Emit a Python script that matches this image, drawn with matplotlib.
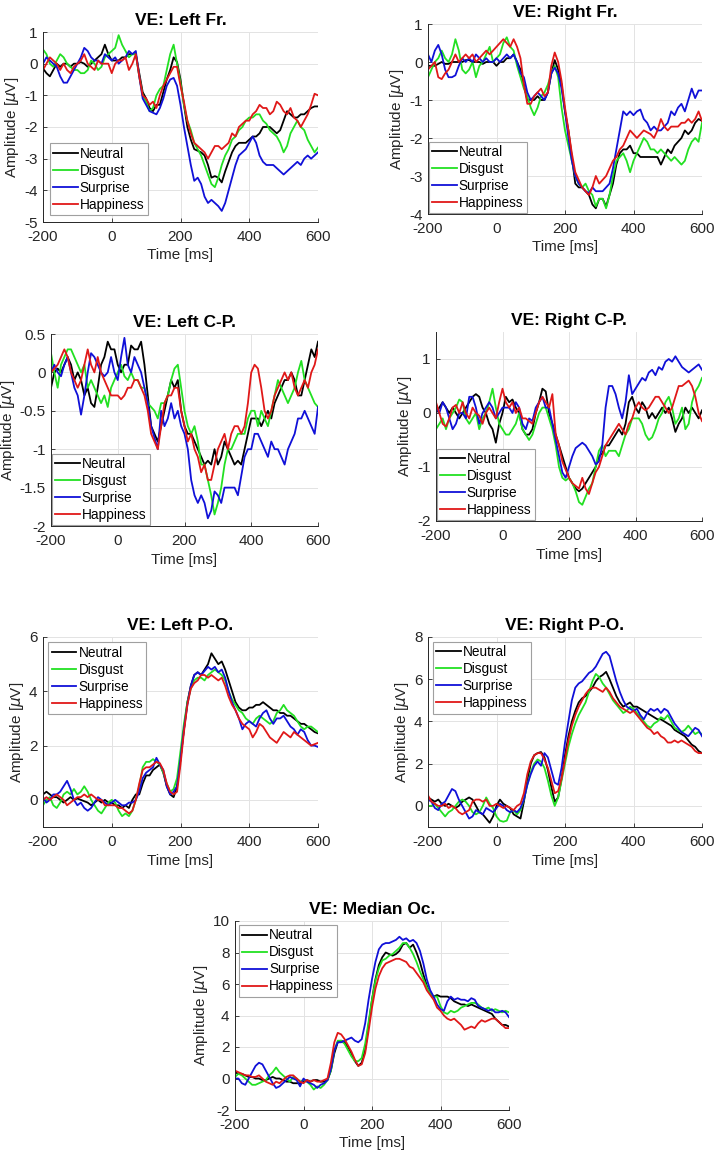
import numpy as np
import matplotlib
matplotlib.use('Agg')
import matplotlib.pyplot as plt
from matplotlib.ticker import FuncFormatter

plt.rcParams['font.family'] = ['Liberation Sans', 'DejaVu Sans']
plt.rcParams['axes.unicode_minus'] = False
plt.rcParams['mathtext.fontset'] = 'dejavusans'

# time axis, ms (10 ms steps, -200 .. 600)
time_ms = np.arange(-200, 601, 10)
conditions = ['Neutral', 'Disgust', 'Surprise', 'Happiness']
colors = ['#000000', '#22e022', '#1010d8', '#e01818']

# ---- VE: Left Fr. ----
left_fr_neutral = [-0.15, -0.3, -0.4, -0.2, 0.0, -0.1, 0.0, 0.0, -0.1, 0.0,
                   0.0, 0.05, 0.0, -0.1, 0.0, 0.1, 0.2, 0.3, 0.6, 0.3,
                   0.1, 0.1, 0.1, 0.2, 0.2, 0.3, 0.3, 0.3, -0.3, -0.9,
                   -1.1, -1.4, -1.5, -1.3, -1.3, -0.9, -0.5, -0.2, 0.2, 0.05,
                   -0.5, -1.3, -2.0, -2.4, -2.7, -2.75, -2.8, -2.9, -3.2, -3.6,
                   -3.55, -3.6, -3.75, -3.4, -3.1, -2.8, -2.6, -2.5, -2.5, -2.5,
                   -2.4, -2.3, -2.3, -2.2, -2.0, -2.0, -2.0, -2.1, -2.2, -2.1,
                   -1.8, -1.5, -1.6, -1.7, -1.7, -1.6, -1.6, -1.5, -1.4, -1.35,
                   -1.35]
left_fr_disgust = [0.45, 0.3, 0.0, -0.1, 0.1, 0.3, 0.2, 0.0, -0.1, -0.2,
                   -0.2, -0.3, -0.3, -0.2, 0.1, 0.0, -0.2, -0.1, 0.2, 0.3,
                   0.4, 0.5, 0.9, 0.6, 0.4, 0.2, 0.3, 0.3, -0.4, -1.0,
                   -1.2, -1.5, -1.4, -1.0, -0.8, -0.7, -0.2, 0.3, 0.6, 0.0,
                   -0.6, -1.3, -1.8, -2.1, -2.5, -2.7, -2.9, -3.2, -3.5, -3.8,
                   -3.9, -3.6, -3.2, -2.9, -2.7, -2.4, -2.3, -2.1, -2.0, -1.8,
                   -1.7, -1.7, -1.6, -1.6, -1.8, -1.9, -2.1, -2.2, -2.3, -2.5,
                   -2.8, -2.6, -2.2, -2.0, -1.8, -2.0, -2.1, -2.4, -2.6, -2.8,
                   -2.65]
left_fr_surprise = [0.0, 0.2, 0.1, 0.0, -0.1, -0.4, -0.6, -0.6, -0.4, -0.2,
                    0.0, 0.2, 0.5, 0.4, 0.2, 0.1, 0.1, 0.0, 0.3, 0.2,
                    0.1, 0.2, 0.0, 0.1, 0.2, 0.4, 0.3, 0.4, -0.4, -1.1,
                    -1.3, -1.5, -1.55, -1.6, -1.4, -1.1, -0.7, -0.5, -0.45, -0.7,
                    -1.3, -2.0, -2.6, -3.2, -3.7, -3.6, -3.8, -4.2, -4.4, -4.3,
                    -4.4, -4.5, -4.65, -4.4, -4.0, -3.6, -3.2, -2.9, -2.8, -2.7,
                    -2.5, -2.3, -2.5, -2.9, -3.1, -3.2, -3.2, -3.2, -3.3, -3.4,
                    -3.5, -3.4, -3.3, -3.2, -3.1, -3.2, -3.0, -2.9, -3.0, -2.9,
                    -2.8]
left_fr_happiness = [-0.2, 0.0, 0.2, 0.1, 0.0, -0.2, 0.0, -0.2, -0.3, -0.1,
                     0.0, 0.1, 0.3, 0.0, -0.1, -0.2, 0.1, 0.0, 0.0, 0.0,
                     -0.3, 0.0, 0.1, 0.1, 0.2, -0.2, 0.0, 0.3, -0.4, -1.0,
                     -1.1, -1.3, -1.2, -1.4, -1.0, -0.7, -0.5, -0.3, -0.1, -0.1,
                     -0.7, -1.2, -1.8, -2.2, -2.5, -2.6, -2.7, -2.8, -3.0, -2.8,
                     -2.6, -2.6, -2.7, -2.6, -2.5, -2.2, -2.3, -2.0, -1.9, -1.8,
                     -1.8, -1.6, -1.5, -1.3, -1.4, -1.4, -1.6, -1.5, -1.2, -1.3,
                     -1.5, -1.6, -1.4, -1.7, -1.8, -2.0, -1.8, -1.6, -1.3, -0.95,
                     -1.0]

# ---- VE: Right Fr. ----
right_fr_neutral = [-0.1, -0.1, -0.1, -0.05, 0.0, -0.05, -0.05, 0.0, 0.0, 0.0,
                    0.0, 0.05, 0.05, 0.0, 0.0, 0.0, -0.05, 0.0, 0.0, 0.0,
                    -0.1, 0.0, 0.0, 0.1, 0.1, 0.2, 0.0, -0.2, -0.6, -1.0,
                    -1.0, -1.0, -0.9, -1.0, -1.0, -0.8, -0.3, 0.05, -0.2, -0.6,
                    -1.3, -1.8, -2.5, -3.2, -3.3, -3.3, -3.4, -3.5, -3.75, -3.85,
                    -3.6, -3.6, -3.8, -3.5, -3.2, -2.7, -2.4, -2.3, -2.3, -2.2,
                    -2.4, -2.4, -2.5, -2.5, -2.5, -2.5, -2.5, -2.5, -2.7, -2.5,
                    -2.3, -2.4, -2.2, -2.1, -2.0, -1.8, -1.9, -1.8, -1.6, -1.5,
                    -1.55]
right_fr_disgust = [-0.4, -0.2, 0.0, 0.1, 0.3, 0.1, 0.0, 0.2, 0.6, 0.3,
                    -0.2, -0.3, -0.2, 0.0, -0.4, -0.1, 0.0, 0.2, 0.4, 0.0,
                    0.1, 0.2, 0.5, 0.65, 0.4, 0.3, -0.1, -0.4, -0.7, -0.9,
                    -1.2, -1.4, -1.2, -0.9, -0.8, -0.6, -0.3, -0.1, -0.4, -1.2,
                    -1.8, -2.2, -2.6, -3.0, -3.2, -3.3, -3.2, -3.4, -3.5, -3.8,
                    -3.6, -3.6, -3.85, -3.5, -3.0, -2.6, -2.5, -2.4, -2.6, -2.9,
                    -2.6, -2.4, -2.2, -2.0, -2.1, -2.3, -2.3, -2.4, -2.3, -2.4,
                    -2.5, -2.6, -2.5, -2.6, -2.7, -2.6, -2.3, -2.1, -2.0, -2.1,
                    -1.6]
right_fr_surprise = [0.2, 0.0, 0.3, 0.45, 0.2, -0.2, -0.4, -0.4, -0.35, -0.1,
                     0.1, 0.0, 0.1, 0.0, 0.2, 0.1, 0.0, 0.1, 0.0, 0.0,
                     0.1, 0.0, 0.1, 0.2, 0.1, 0.2, 0.0, -0.3, -0.4, -0.8,
                     -1.0, -0.9, -0.8, -0.9, -1.0, -0.8, -0.3, -0.15, -0.3, -0.7,
                     -1.3, -2.0, -2.6, -3.0, -3.2, -3.3, -3.4, -3.45, -3.3, -3.4,
                     -3.4, -3.4, -3.3, -3.2, -2.8, -2.3, -1.8, -1.3, -1.4, -1.3,
                     -1.4, -1.3, -1.25, -1.5, -1.6, -1.8, -1.7, -1.8, -1.8, -1.7,
                     -1.6, -1.3, -1.4, -1.2, -1.1, -1.3, -1.0, -0.7, -0.95, -0.75,
                     -0.75]
right_fr_happiness = [-0.2, -0.1, 0.0, -0.4, -0.45, -0.3, -0.2, 0.0, 0.2, 0.0,
                      0.1, 0.2, 0.1, 0.2, 0.0, 0.1, 0.2, 0.3, 0.2, 0.3,
                      0.4, 0.5, 0.6, 0.5, 0.4, 0.6, 0.4, 0.1, -0.6, -1.1,
                      -1.1, -0.9, -0.8, -0.7, -0.9, -0.8, -0.1, 0.25, 0.0, -0.5,
                      -1.2, -1.8, -2.4, -2.9, -3.1, -3.3, -3.4, -3.5, -3.3, -3.0,
                      -3.2, -3.1, -3.0, -2.8, -2.6, -2.5, -2.3, -2.2, -2.0, -1.8,
                      -1.9, -2.0, -1.9, -1.8, -1.85, -1.9, -2.0, -1.8, -1.5, -1.7,
                      -1.8, -1.7, -1.7, -1.7, -1.6, -1.6, -1.5, -1.6, -1.5, -1.3,
                      -1.55]

# ---- VE: Left C-P. ----
left_cp_neutral = [-0.2, 0.0, 0.05, 0.0, 0.1, 0.2, 0.1, -0.1, 0.0, -0.1,
                   -0.3, -0.2, -0.4, -0.45, -0.2, 0.1, 0.2, 0.4, 0.3, 0.3,
                   0.1, 0.0, 0.1, 0.1, 0.35, 0.3, 0.3, 0.4, 0.1, -0.3,
                   -0.7, -0.8, -0.9, -0.7, -0.5, -0.3, -0.1, -0.2, -0.1, -0.5,
                   -0.7, -0.8, -0.8, -0.9, -1.0, -1.1, -1.2, -1.15, -1.2, -1.0,
                   -1.2, -1.1, -0.9, -1.0, -1.1, -1.2, -1.15, -1.2, -1.0, -0.8,
                   -0.6, -0.6, -0.6, -0.7, -0.6, -0.5, -0.6, -0.4, -0.3, -0.2,
                   -0.1, -0.1, 0.0, -0.1, -0.3, -0.3, -0.1, 0.1, 0.3, 0.2,
                   0.4]
left_cp_disgust = [0.25, 0.0, -0.2, 0.1, 0.2, 0.3, 0.3, 0.2, 0.1, 0.0,
                   0.1, -0.2, -0.1, -0.2, -0.3, -0.4, -0.3, -0.45, -0.2, -0.1,
                   0.0, 0.1, -0.05, -0.1, 0.0, -0.1, -0.1, -0.2, -0.2, -0.4,
                   -0.45, -0.5, -0.6, -0.4, -0.4, -0.3, -0.1, 0.05, 0.1, -0.2,
                   -0.5, -0.7, -0.8, -0.7, -0.9, -1.2, -1.2, -1.4, -1.6, -1.85,
                   -1.7, -1.5, -1.2, -1.0, -1.0, -0.9, -0.8, -0.8, -0.8, -0.6,
                   -0.5, -0.5, -0.7, -0.5, -0.6, -0.7, -0.5, -0.3, -0.1, -0.2,
                   -0.3, -0.4, -0.3, -0.2, 0.0, 0.15, -0.1, -0.2, -0.3, -0.4,
                   -0.45]
left_cp_surprise = [0.0, 0.1, 0.0, -0.05, 0.1, 0.2, 0.0, -0.2, -0.3, -0.55,
                    -0.3, 0.0, 0.25, 0.2, 0.1, 0.0, -0.05, 0.0, 0.2, 0.0,
                    -0.1, 0.2, 0.45, 0.1, 0.0, 0.2, 0.1, 0.0, -0.2, -0.4,
                    -0.7, -0.85, -1.0, -0.5, -0.7, -0.6, -0.4, -0.6, -0.5, -0.7,
                    -0.8, -1.0, -1.4, -1.6, -1.7, -1.6, -1.7, -1.9, -1.8, -1.55,
                    -1.6, -1.7, -1.5, -1.5, -1.5, -1.5, -1.6, -1.35, -1.1, -1.0,
                    -1.0, -0.8, -0.8, -0.9, -1.0, -1.1, -0.9, -1.0, -1.0, -1.1,
                    -1.2, -1.0, -0.9, -0.8, -0.6, -0.6, -0.5, -0.6, -0.7, -0.8,
                    -0.45]
left_cp_happiness = [0.0, 0.05, 0.1, 0.2, 0.3, 0.2, 0.0, -0.1, -0.2, -0.1,
                     0.1, 0.3, 0.1, 0.0, 0.2, 0.0, -0.1, -0.2, -0.3, -0.3,
                     -0.3, -0.35, -0.3, -0.2, -0.2, -0.1, -0.1, -0.2, -0.3, -0.5,
                     -0.8, -0.9, -1.0, -0.7, -0.4, -0.3, -0.3, -0.2, -0.2, -0.5,
                     -0.7, -0.9, -0.8, -1.0, -1.1, -1.3, -1.2, -1.4, -1.4, -1.2,
                     -1.0, -0.9, -0.8, -1.0, -0.8, -0.7, -0.7, -0.8, -0.7, -0.4,
                     0.0, 0.1, 0.05, -0.2, -0.5, -0.6, -0.5, -0.3, -0.2, -0.1,
                     0.0, -0.1, 0.0, -0.2, -0.3, -0.2, -0.1, -0.2, 0.0, 0.1,
                     0.3]

# ---- VE: Right C-P. ----
right_cp_neutral = [0.0, 0.1, 0.2, 0.1, 0.0, 0.1, 0.0, -0.1, 0.0, 0.1,
                    0.2, 0.3, 0.35, 0.3, 0.1, 0.0, -0.2, -0.3, -0.55, -0.2,
                    0.0, 0.3, 0.2, 0.25, 0.1, 0.0, -0.3, -0.4, -0.4, -0.3,
                    0.0, 0.2, 0.45, 0.4, 0.0, -0.2, -0.4, -0.6, -0.8, -1.0,
                    -1.2, -1.3, -1.4, -1.45, -1.4, -1.3, -1.2, -1.1, -1.0, -0.8,
                    -0.75, -0.6, -0.6, -0.5, -0.4, -0.3, -0.4, -0.2, 0.2, 0.3,
                    0.1, 0.0, 0.2, 0.1, -0.1, 0.0, -0.1, 0.0, 0.1, 0.0,
                    0.1, -0.1, -0.35, -0.2, -0.1, 0.1, 0.0, 0.1, 0.0, -0.1,
                    0.05]
right_cp_disgust = [-0.3, -0.2, -0.1, -0.3, -0.1, 0.0, 0.1, 0.25, 0.2, -0.1,
                    -0.2, -0.1, 0.0, -0.3, -0.1, 0.0, 0.2, 0.45, 0.1, -0.2,
                    -0.3, -0.4, -0.4, -0.3, -0.2, 0.0, -0.3, -0.4, -0.5, -0.4,
                    -0.2, 0.0, 0.1, 0.1, -0.1, -0.3, -0.6, -1.0, -1.2, -1.25,
                    -1.2, -1.3, -1.45, -1.65, -1.7, -1.55, -1.4, -1.3, -1.0, -0.7,
                    -0.6, -0.8, -0.7, -0.7, -0.7, -0.8, -0.6, -0.4, -0.3, -0.1,
                    -0.1, -0.1, -0.2, -0.4, -0.5, -0.45, -0.3, -0.1, 0.0, 0.2,
                    0.3, 0.1, -0.2, -0.1, 0.1, -0.3, -0.2, 0.2, 0.4, 0.5,
                    0.65]
right_cp_surprise = [0.1, 0.0, 0.2, 0.1, -0.1, -0.3, -0.2, 0.0, 0.0, -0.1,
                     0.3, 0.3, 0.1, -0.2, 0.0, 0.1, 0.2, 0.1, -0.1, 0.0,
                     0.1, 0.1, 0.1, 0.0, 0.2, 0.1, -0.2, -0.3, -0.1, -0.15,
                     0.1, 0.2, 0.3, 0.1, 0.1, -0.2, -0.5, -0.8, -1.1, -1.2,
                     -1.0, -0.8, -0.65, -0.6, -0.55, -0.6, -0.7, -0.8, -0.95, -0.9,
                     -0.6, 0.1, 0.5, 0.5, 0.35, 0.1, -0.1, 0.2, 0.7, 0.35,
                     0.45, 0.55, 0.65, 0.6, 0.75, 0.8, 0.7, 0.85, 0.8, 0.95,
                     1.0, 0.95, 1.05, 0.95, 0.85, 0.8, 0.75, 0.8, 0.85, 0.9,
                     0.8]
right_cp_happiness = [0.2, 0.0, -0.2, -0.25, -0.1, 0.1, 0.15, 0.0, 0.2, 0.0,
                      -0.1, 0.1, 0.0, -0.05, -0.2, 0.0, 0.1, 0.0, -0.1, 0.2,
                      0.45, 0.2, 0.1, 0.2, 0.0, 0.1, -0.1, -0.1, -0.15, -0.2,
                      0.0, 0.2, 0.3, 0.2, 0.1, 0.35, -0.4, -0.6, -0.9, -1.05,
                      -1.2, -1.3, -1.35, -1.4, -1.2, -1.4, -1.5, -1.3, -1.1, -1.0,
                      -0.8, -0.6, -0.5, -0.4, -0.3, -0.2, -0.3, -0.4, -0.2, -0.1,
                      0.1, 0.2, 0.1, 0.05, 0.1, 0.2, 0.3, 0.3, 0.2, 0.1,
                      0.0, 0.1, 0.3, 0.5, 0.5, 0.55, 0.6, 0.5, 0.3, 0.0,
                      -0.15]

# ---- VE: Left P-O. ----
left_po_neutral = [0.2, 0.3, 0.2, 0.1, 0.1, 0.0, -0.1, 0.0, 0.1, 0.0,
                   0.05, 0.0, -0.05, -0.1, -0.2, -0.1, 0.0, -0.1, 0.0, -0.1,
                   -0.1, -0.2, -0.2, -0.3, -0.2, -0.3, 0.0, 0.2, 0.2, 0.6,
                   0.9, 0.9, 1.1, 1.2, 1.3, 1.0, 0.5, 0.2, 0.1, 0.5,
                   1.5, 2.6, 3.6, 4.2, 4.6, 4.7, 4.6, 4.8, 5.0, 5.4,
                   5.2, 5.0, 5.1, 4.8, 4.4, 4.0, 3.6, 3.4, 3.3, 3.3,
                   3.4, 3.4, 3.5, 3.5, 3.6, 3.5, 3.4, 3.3, 3.3, 3.2,
                   3.2, 3.1, 3.1, 3.0, 2.9, 2.8, 2.8, 2.7, 2.6, 2.5,
                   2.45]
left_po_disgust = [-0.2, 0.0, 0.1, -0.2, -0.3, -0.1, 0.2, 0.3, 0.2, 0.4,
                   0.2, 0.3, 0.5, 0.3, 0.0, -0.2, -0.4, -0.5, -0.3, -0.1,
                   0.0, -0.1, -0.4, -0.6, -0.5, -0.6, -0.4, 0.0, 0.5, 1.2,
                   1.4, 1.4, 1.5, 1.4, 1.3, 1.0, 0.6, 0.3, 0.4, 0.8,
                   1.8, 2.8, 3.6, 4.1, 4.4, 4.5, 4.5, 4.4, 4.6, 4.7,
                   4.8, 4.7, 4.6, 4.4, 4.0, 3.7, 3.5, 3.3, 3.2, 3.0,
                   2.9, 2.8, 3.0, 3.1, 3.0, 2.9, 2.8, 2.9, 3.2, 3.3,
                   3.5, 3.3, 3.2, 3.1, 2.9, 2.7, 2.6, 2.7, 2.7, 2.6,
                   2.5]
left_po_surprise = [0.1, -0.1, 0.0, 0.2, 0.2, 0.3, 0.5, 0.7, 0.4, 0.0,
                    -0.2, -0.1, -0.3, -0.4, -0.3, -0.1, 0.1, 0.0, -0.1, -0.2,
                    -0.1, 0.0, -0.1, -0.2, -0.2, -0.1, -0.1, 0.0, 0.3, 0.8,
                    1.0, 1.1, 1.2, 1.55, 1.3, 1.1, 0.5, 0.2, 0.3, 0.5,
                    1.5, 2.6, 3.5, 4.2, 4.6, 4.7, 4.6, 4.75, 4.9, 4.8,
                    4.9, 4.7, 4.8, 4.5, 4.0, 3.6, 3.3, 3.0, 2.6, 2.8,
                    2.9, 2.8, 2.7, 3.0, 3.2, 3.3, 3.0, 2.8, 3.0, 3.0,
                    3.1, 2.9, 2.7, 2.6, 2.4, 2.6, 2.5, 2.2, 2.0, 2.0,
                    1.95]
left_po_happiness = [0.0, 0.1, 0.0, 0.1, 0.2, 0.1, 0.0, -0.2, -0.1, 0.0,
                     0.1, 0.1, 0.2, 0.1, 0.2, 0.1, 0.0, 0.0, -0.2, -0.2,
                     -0.2, -0.2, -0.3, -0.3, -0.4, -0.5, -0.4, 0.0, 0.6, 1.1,
                     1.2, 1.2, 1.3, 1.4, 1.35, 1.1, 0.6, 0.3, 0.2, 0.3,
                     1.3, 2.5, 3.5, 4.1, 4.3, 4.4, 4.6, 4.6, 4.5, 4.6,
                     4.5, 4.4, 4.5, 4.2, 3.8, 3.5, 3.3, 3.0, 2.8, 2.7,
                     2.6, 2.3, 2.5, 2.8, 2.7, 2.5, 2.3, 2.2, 2.1, 2.3,
                     2.5, 2.4, 2.3, 2.5, 2.4, 2.3, 2.2, 2.1, 2.0, 2.05,
                     2.1]

# ---- VE: Right P-O. ----
right_po_neutral = [0.4, 0.3, 0.2, 0.3, 0.1, 0.0, 0.1, 0.0, -0.1, 0.0,
                    0.2, 0.3, 0.4, 0.3, 0.0, -0.3, -0.4, -0.6, -0.8, -0.5,
                    0.0, 0.3, 0.1, 0.0, -0.1, -0.4, -0.5, -0.6, 0.2, 1.2,
                    2.0, 2.4, 2.5, 2.55, 2.3, 1.7, 0.9, 0.2, 0.4, 1.3,
                    2.4, 3.3, 4.0, 4.5, 4.9, 5.1, 5.2, 5.4, 5.6, 5.9,
                    6.1, 6.2, 6.35, 6.0, 5.6, 5.2, 4.9, 4.7, 4.8, 4.9,
                    4.7, 4.7, 4.6, 4.5, 4.4, 4.3, 4.2, 4.1, 4.1, 4.0,
                    3.9, 3.8, 3.6, 3.5, 3.4, 3.3, 3.1, 2.9, 2.8, 2.6,
                    2.5]
right_po_disgust = [0.0, 0.0, 0.1, -0.1, -0.3, -0.5, -0.3, -0.2, 0.0, 0.2,
                    0.3, 0.2, 0.0, -0.3, -0.4, -0.3, 0.0, 0.4, 0.1, -0.1,
                    -0.5, -0.7, -0.75, -0.7, -0.3, -0.2, -0.4, -0.2, 0.3, 1.0,
                    1.6, 2.0, 2.2, 2.1, 1.8, 1.2, 0.5, 0.0, 0.4, 1.2,
                    2.0, 2.8, 3.4, 3.9, 4.3, 4.6, 4.9, 5.4, 5.9, 6.25,
                    6.1, 5.8, 5.6, 5.3, 5.0, 4.8, 4.6, 4.4, 4.5, 4.7,
                    4.6, 4.4, 4.2, 4.0, 3.8, 3.7, 3.9, 4.0, 4.2, 4.1,
                    4.3, 4.0, 3.7, 3.6, 3.5, 3.6, 3.8, 3.6, 3.4, 3.5,
                    3.4]
right_po_surprise = [0.3, 0.2, -0.1, -0.2, 0.1, 0.2, 0.5, 0.8, 0.7, 0.3,
                     0.0, -0.3, -0.6, -0.5, -0.2, -0.3, -0.4, -0.1, -0.2, -0.3,
                     -0.1, 0.1, 0.0, -0.2, -0.3, -0.2, -0.3, -0.1, 0.3, 1.0,
                     1.5, 1.9, 2.1, 1.9, 2.5, 2.3, 1.7, 1.1, 1.0, 1.8,
                     3.0, 4.0, 5.0, 5.6, 5.8, 5.9, 6.1, 6.3, 6.4, 6.6,
                     6.9, 7.2, 7.3, 7.1, 6.5, 5.9, 5.4, 5.0, 4.7, 4.6,
                     4.5, 4.6, 4.3, 4.1, 4.4, 4.6, 4.5, 4.6, 4.4, 4.6,
                     4.5, 4.2, 3.9, 3.7, 3.5, 3.4, 3.3, 3.5, 3.7, 3.6,
                     3.3]
right_po_happiness = [0.5, 0.2, 0.1, 0.0, 0.0, 0.1, -0.1, 0.0, -0.1, -0.3,
                      -0.4, -0.3, -0.2, 0.2, 0.3, 0.3, 0.2, 0.3, 0.0, 0.0,
                      0.1, 0.0, -0.1, 0.0, -0.1, -0.2, 0.0, 0.1, 0.6, 1.5,
                      2.1, 2.4, 2.5, 2.5, 2.2, 1.8, 1.2, 0.6, 0.7, 1.3,
                      2.2, 3.1, 3.8, 4.3, 4.7, 5.0, 5.3, 5.5, 5.6, 5.6,
                      5.5, 5.4, 5.6, 5.4, 5.1, 4.9, 4.7, 4.6, 4.5, 4.4,
                      4.5, 4.3, 4.1, 3.9, 3.7, 3.6, 3.4, 3.5, 3.3, 3.2,
                      3.0, 3.0, 3.1, 3.0, 3.1, 3.0, 2.9, 2.8, 2.6, 2.5,
                      2.5]

# ---- VE: Median Oc. ----
median_oc_neutral = [0.4, 0.3, 0.3, 0.2, 0.1, 0.1, 0.0, 0.0, -0.1, -0.1,
                     0.0, 0.1, 0.0, 0.0, -0.1, -0.2, -0.2, -0.3, -0.3, -0.3,
                     -0.2, -0.1, -0.2, -0.1, -0.1, -0.2, -0.2, -0.1, 0.5, 1.6,
                     2.3, 2.4, 2.3, 2.0, 1.6, 1.1, 0.8, 1.0, 1.8, 3.4,
                     5.0, 6.3, 7.2, 7.7, 8.0, 7.9, 7.8, 7.9, 8.1, 8.5,
                     8.6, 8.3, 8.5, 8.0, 7.4, 6.6, 5.9, 5.4, 5.2, 5.3,
                     5.2, 5.2, 5.2, 5.1, 4.9, 4.8, 4.7, 4.7, 4.6, 4.7,
                     4.6, 4.5, 4.4, 4.3, 4.2, 4.1, 3.8, 3.6, 3.4, 3.4,
                     3.3]
median_oc_disgust = [0.1, 0.3, 0.2, 0.0, -0.2, -0.4, -0.4, -0.3, -0.2, -0.1,
                     0.2, 0.4, 0.7, 0.4, 0.2, 0.0, -0.2, 0.1, 0.0, -0.2,
                     -0.1, -0.2, -0.4, -0.7, -0.5, -0.6, -0.4, -0.1, 0.5, 1.8,
                     2.4, 2.4, 2.2, 1.8, 1.4, 1.1, 1.1, 1.3, 2.2, 3.6,
                     5.0, 6.2, 7.0, 7.5, 7.6, 7.8, 7.9, 8.1, 8.3, 8.6,
                     8.6, 8.3, 7.9, 7.4, 6.8, 6.3, 5.8, 5.4, 5.2, 5.2,
                     4.6, 4.2, 4.1, 4.3, 4.2, 4.3, 4.5, 4.6, 4.7, 4.8,
                     4.8, 4.7, 4.5, 4.4, 4.5, 4.3, 4.4, 4.3, 4.2, 4.3,
                     4.2]
median_oc_surprise = [0.0, 0.0, -0.3, -0.4, 0.0, 0.4, 0.8, 1.0, 0.9, 0.5,
                      0.1, -0.3, -0.6, -0.5, -0.3, -0.1, 0.1, 0.0, -0.1, -0.5,
                      0.0, -0.2, -0.3, -0.4, -0.6, -0.4, -0.3, -0.1, 0.6, 1.8,
                      2.3, 2.3, 2.4, 2.5, 2.6, 2.4, 2.3, 2.5, 3.5, 5.0,
                      6.3, 7.4, 8.2, 8.5, 8.6, 8.6, 8.7, 8.8, 9.0, 8.8,
                      8.9, 8.7, 8.8, 8.6, 8.1, 7.3, 6.3, 5.6, 5.2, 4.7,
                      4.4, 4.3, 4.9, 5.2, 5.0, 5.1, 5.0, 5.0, 4.9, 5.1,
                      5.0, 4.6, 4.5, 4.4, 4.3, 4.4, 4.2, 4.2, 4.3, 4.2,
                      3.9]
median_oc_happiness = [0.5, 0.4, 0.3, 0.2, 0.2, 0.1, 0.1, 0.2, 0.0, -0.2,
                       -0.3, -0.4, -0.2, -0.3, -0.1, 0.1, 0.2, 0.2, 0.0, -0.2,
                       -0.3, -0.1, -0.2, -0.1, -0.2, -0.2, -0.1, 0.0, 1.0, 2.3,
                       2.9, 2.8, 2.5, 2.1, 1.7, 1.2, 0.8, 0.9, 1.6, 3.0,
                       4.5, 5.7, 6.5, 7.0, 7.3, 7.4, 7.5, 7.6, 7.6, 7.5,
                       7.4, 7.1, 7.0, 6.7, 6.4, 6.1, 5.6, 5.3, 5.0, 4.5,
                       4.3, 4.0, 3.8, 3.7, 3.8, 3.6, 3.4, 3.1, 3.2, 3.3,
                       3.2, 3.5, 3.7, 3.6, 3.7, 3.8, 3.8, 3.6, 3.4, 3.2,
                       3.2]

titles = ['VE: Left Fr.', 'VE: Right Fr.', 'VE: Left C-P.', 'VE: Right C-P.',
          'VE: Left P-O.', 'VE: Right P-O.', 'VE: Median Oc.']
series = [
    [left_fr_neutral, left_fr_disgust, left_fr_surprise, left_fr_happiness],
    [right_fr_neutral, right_fr_disgust, right_fr_surprise, right_fr_happiness],
    [left_cp_neutral, left_cp_disgust, left_cp_surprise, left_cp_happiness],
    [right_cp_neutral, right_cp_disgust, right_cp_surprise, right_cp_happiness],
    [left_po_neutral, left_po_disgust, left_po_surprise, left_po_happiness],
    [right_po_neutral, right_po_disgust, right_po_surprise, right_po_happiness],
    [median_oc_neutral, median_oc_disgust, median_oc_surprise, median_oc_happiness],
]
y_limits = [(-5, 1), (-4, 1), (-2, 0.5), (-2, 1.5), (-1, 6), (-1, 8), (-2, 10)]
y_ticks = [np.arange(-5, 1.1, 1), np.arange(-4, 1.1, 1), np.arange(-2, 0.6, 0.5),
           np.arange(-2, 1.1, 1), np.arange(0, 6.1, 2), np.arange(0, 8.1, 2),
           np.arange(-2, 10.1, 2)]

# axes boxes in pixels: left, top, right, bottom
W, H = 717, 1160
boxes = [(43, 32, 318, 222), (428, 24, 702, 214),
         (51, 334, 318, 526), (436, 332, 702, 521),
         (43, 637, 318, 827), (428, 637, 702, 827),
         (235, 921, 509, 1110)]
legend_loc = ['lower left'] * 4 + ['upper left'] * 3
legend_pad = [0.5, 0.05, 0.05, 0.05, 0.4, 0.35, 0.3]

fig = plt.figure(figsize=(W / 100, H / 100), dpi=100)
axcol = '#262626'

for k in range(7):
    l, t, r, b = boxes[k]
    ax = fig.add_axes([l / W, 1 - b / H, (r - l) / W, (b - t) / H])
    for vals, name, c in zip(series[k], conditions, colors):
        ax.plot(time_ms, vals, color=c, lw=1.3, label=name)
    ax.set_xlim(-200, 600)
    ax.set_ylim(*y_limits[k])
    ax.set_xticks([-200, 0, 200, 400, 600])
    ax.set_yticks(y_ticks[k])
    ax.yaxis.set_major_formatter(FuncFormatter(lambda v, p: '%g' % round(v, 2)))
    ax.grid(True, color='#e3e3e3', lw=0.7)
    ax.set_axisbelow(True)
    for s in ['top', 'right']:
        ax.spines[s].set_visible(False)
    for s in ['left', 'bottom']:
        ax.spines[s].set_color(axcol)
        ax.spines[s].set_linewidth(0.7)
    ax.tick_params(direction='in', length=3, width=0.6, color=axcol,
                   labelcolor=axcol, labelsize=11)
    ax.tick_params(axis='x', pad=5.5)
    ax.tick_params(axis='y', pad=4)
    ax.set_title(titles[k], fontsize=12.5, fontweight='bold', pad=5)
    ax.set_xlabel('Time [ms]', fontsize=11, color=axcol, labelpad=3.5)
    ax.set_ylabel(r'Amplitude [$\mu$V]', fontsize=11, color=axcol, labelpad=2)
    leg = ax.legend(loc=legend_loc[k], fontsize=9.8, frameon=True, fancybox=False,
                    framealpha=1, edgecolor='#a0a0a0', borderaxespad=legend_pad[k],
                    handlelength=1.8, handletextpad=0.15, labelspacing=0.22,
                    borderpad=0.25)
    leg.get_frame().set_linewidth(0.8)

fig.savefig('out.png', dpi=100)
